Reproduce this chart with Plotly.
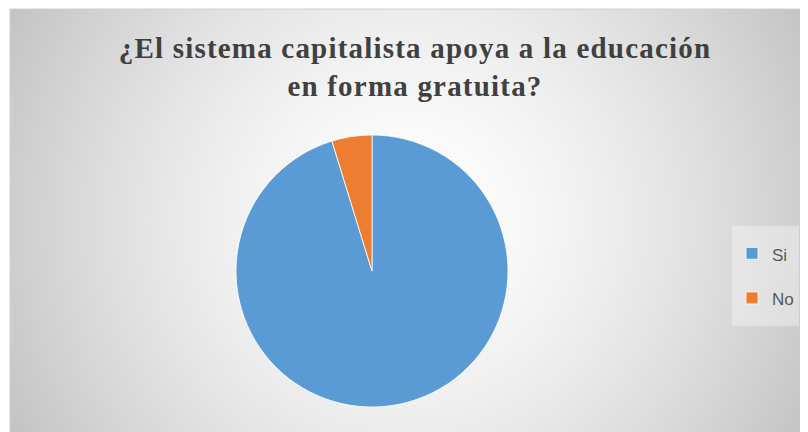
import plotly.graph_objects as go
import zlib, struct, base64, math

labels = ["Si", "No"]
values = [20, 1]
colors = ["#5B9BD5", "#ED7D31"]
title_lines = ["¿El sistema capitalista apoya a la educación", "en forma gratuita?"]

# the page body adds an 8px offset, so the figure covers page pixels 8..808 x 8..432
W, H = 800, 424
FX0, FY0 = 2, 1


def gradient_png(w, h):
    cx, cy = w * 0.5, h * 0.5
    maxd = math.hypot(cx, cy)
    rows = []
    for j in range(h):
        row = bytearray([0])
        for i in range(w):
            d = math.hypot(i + 0.5 - cx, j + 0.5 - cy) / maxd
            v = 255 - 60 * min(d, 1.0) ** 1.5
            row.append(int(round(v)))
        rows.append(bytes(row))
    raw = b"".join(rows)

    def chunk(t, data):
        c = struct.pack(">I", len(data)) + t + data
        return c + struct.pack(">I", zlib.crc32(t + data) & 0xffffffff)

    png = (b"\x89PNG\r\n\x1a\n"
           + chunk(b"IHDR", struct.pack(">IIBBBBB", w, h, 8, 0, 0, 0, 0))
           + chunk(b"IDAT", zlib.compress(raw, 9))
           + chunk(b"IEND", b""))
    return "data:image/png;base64," + base64.b64encode(png).decode()


bg = gradient_png(399, 212)

legend_labels = [
    '<span style="font-size:17px;baseline-shift:5px">%s</span>' % l for l in labels
]
title_text = "<br>".join(
    '<span style="letter-spacing:1.2px">%s</span>' % t for t in title_lines
)

fig = go.Figure(go.Pie(
    labels=legend_labels,
    values=values,
    marker=dict(colors=colors, line=dict(color="#ffffff", width=0.8)),
    sort=False,
    direction="clockwise",
    rotation=0,
    textinfo="none",
    hoverinfo="label+value+percent",
    domain=dict(x=[228 / W, 500 / W], y=[25 / H, 297 / H]),
))

fig.update_layout(
    width=W, height=H,
    margin=dict(l=0, r=0, t=0, b=0),
    paper_bgcolor="#ffffff",
    plot_bgcolor="rgba(0,0,0,0)",
    title=dict(
        text=title_text,
        x=407 / W, xanchor="center",
        y=1 - 50 / H, yanchor="top",
        font=dict(family="Liberation Serif", size=29, color="#404040", weight="bold"),
    ),
    legend=dict(
        x=724 / W, xanchor="left",
        y=1 - 218 / H, yanchor="top",
        bgcolor="rgba(255,255,255,0.35)",
        borderwidth=0,
        font=dict(family="Liberation Sans", size=32, color="#595959"),
    ),
    images=[dict(
        source=bg, xref="paper", yref="paper",
        x=FX0 / W, y=1 - FY0 / H,
        sizex=1 - FX0 / W, sizey=1 - FY0 / H,
        xanchor="left", yanchor="top",
        sizing="stretch", layer="below",
    )],
    shapes=[dict(
        type="rect", xref="paper", yref="paper",
        x0=FX0 / W, y0=-0.01, x1=1.01, y1=1 - FY0 / H,
        line=dict(color="#d0d0d0", width=1),
        layer="above",
    )],
)

fig.write_html("out.html")
